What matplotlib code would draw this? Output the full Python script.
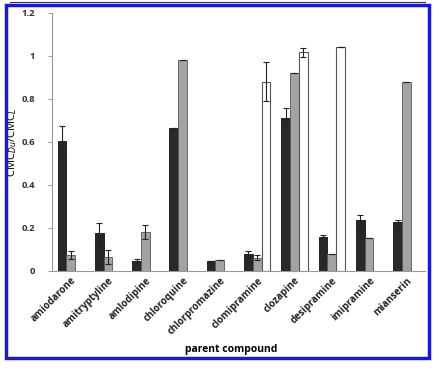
import numpy as np
import matplotlib.pyplot as plt
from matplotlib.patches import Rectangle

compounds = ["amiodarone", "amitryptyline", "amlodipine", "chloroquine", "chlorpromazine",
             "clomipramine", "clozapine", "desipramine", "imipramine", "mianserin"]

# dark series
dark = [0.605, 0.175, 0.045, 0.662, 0.045, 0.081, 0.713, 0.160, 0.236, 0.228]
dark_err = [0.068, 0.050, 0.010, 0, 0, 0.014, 0.042, 0.005, 0.023, 0.008]
# gray series
gray = [0.076, 0.064, 0.181, 0.980, 0.053, 0.062, 0.920, 0.078, 0.155, 0.878]
gray_err = [0.018, 0.032, 0.034, 0, 0, 0.013, 0, 0, 0, 0]
# white series
white = [0, 0, 0, 0, 0, 0.879, 1.016, 1.042, 0, 0]
white_err = [0, 0, 0, 0, 0, 0.090, 0.020, 0, 0, 0]

plt.rcParams['font.family'] = ['Open Sans', 'DejaVu Sans']

fig = plt.figure(figsize=(4.45, 3.69), dpi=100)
ax = fig.add_axes([0.117, 0.2656, 0.838, 0.70])

x = np.arange(len(compounds))
w = 0.235
ekw = dict(elinewidth=0.8, capthick=0.8, ecolor='#222222')

ax.bar(x - w, dark, w, color='#282828', edgecolor='#111111', linewidth=0.6,
       yerr=dark_err, capsize=2.5, error_kw=ekw)
ax.bar(x, gray, w, color='#a3a3a3', edgecolor='#555555', linewidth=0.6,
       yerr=gray_err, capsize=2.5, error_kw=ekw)
mask = np.array(white) > 0
ax.bar(x[mask] + w, np.array(white)[mask], w, color='white', edgecolor='#555555', linewidth=0.8,
       yerr=np.array(white_err)[mask], capsize=2.5, error_kw=ekw)

ax.set_xlim(-0.5, len(compounds) - 0.5)
ax.set_ylim(0, 1.2)
ax.set_yticks([0, 0.2, 0.4, 0.6, 0.8, 1.0, 1.2])
ax.set_yticklabels(["0", "0.2", "0.4", "0.6", "0.8", "1", "1.2"], fontsize=6.8,
                   fontweight='bold', color='#333333')
ax.set_xticks(x)
ax.set_xticklabels(compounds, rotation=45, ha='right', rotation_mode='anchor',
                   fontsize=7, fontweight='bold', color='#222222')
ax.tick_params(axis='x', length=0, pad=3)
ax.tick_params(axis='y', length=3, width=0.6, color='#888888', pad=9)

for s in ['top', 'right']:
    ax.spines[s].set_visible(False)
for s in ['left', 'bottom']:
    ax.spines[s].set_color('#999999')
    ax.spines[s].set_linewidth(0.8)

ax.set_ylabel("CMC$_{Du}$/CMC$_{L}$", fontsize=8, labelpad=2)
fig.text(0.52, 0.045, "parent compound", ha='center', fontsize=7.5, fontweight='bold')

# blue frame around the picture
fig.patches.append(Rectangle((6 / 445, 11 / 369), 423 / 445, 353 / 369, transform=fig.transFigure,
                             fill=False, edgecolor='#1a1acd', linewidth=2.5))
fig.lines.append(plt.Line2D([10 / 445, 425 / 445], [367 / 369, 367 / 369], transform=fig.transFigure,
                            color='#333333', linewidth=0.8))

fig.savefig("out.png", dpi=100)
